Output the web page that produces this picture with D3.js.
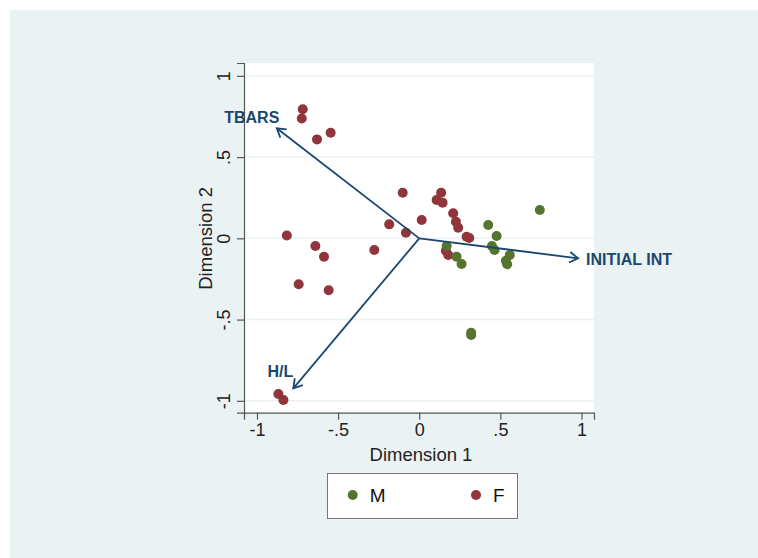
<!DOCTYPE html>
<html>
<head>
<meta charset="utf-8">
<script src="https://cdn.jsdelivr.net/npm/d3@7"></script>
<style>
  body { margin: 0; background: #fff; }
  svg { display: block; font-family: "Liberation Sans", Arial, sans-serif; }
</style>
</head>
<body>
<div id="chart"></div>
<script>
// biplot data
var femaleDim1 = [-0.718, -0.724, -0.546, -0.630, -0.102, -0.185, -0.082, -0.816, 0.015, -0.640, -0.277, -0.587,
                  -0.743, -0.558, -0.868, -0.837, 0.135, 0.107, 0.144, 0.209, 0.226, 0.240, 0.292, 0.308, 0.164, 0.179];
var femaleDim2 = [0.794, 0.738, 0.650, 0.609, 0.281, 0.086, 0.034, 0.018, 0.113, -0.047, -0.072, -0.113,
                  -0.283, -0.320, -0.958, -0.995, 0.281, 0.236, 0.219, 0.154, 0.102, 0.065, 0.010, 0.002, -0.076, -0.103];
var maleDim1 = [0.743, 0.425, 0.477, 0.169, 0.448, 0.464, 0.230, 0.261, 0.558, 0.534, 0.542, 0.320, 0.320];
var maleDim2 = [0.174, 0.082, 0.014, -0.047, -0.047, -0.072, -0.113, -0.158, -0.103, -0.138, -0.160, -0.581, -0.595];

var varNames = ["TBARS", "INITIAL INT", "H/L"];
var varDim1 = [-0.878, 0.979, -0.776];
var varDim2 = [0.677, -0.123, -0.923];

var tickValues = [-1, -0.5, 0, 0.5, 1];
var tickLabels = ["-1", "-.5", "0", ".5", "1"];

var legendNames = ["M", "F"];

(function () {
    var W = 758, H = 558;
    var navy = "#1a476f", green = "#55752f", maroon = "#90353b", bluish = "#eaf2f3";

    var svg = d3.select("#chart").append("svg")
        .attr("width", W)
        .attr("height", H);

    // outer background
    svg.append("rect")
        .attr("x", 10).attr("y", 10)
        .attr("width", W - 10).attr("height", H - 10)
        .style("fill", bluish);

    var pLeft = 244, pRight = 594, pTop = 63, pBottom = 412.7;
    var x = d3.scaleLinear().domain([-1.08, 1.077]).range([pLeft, pRight]);
    var y = d3.scaleLinear().domain([-1.073, 1.079]).range([pBottom, pTop]);

    // plot region
    svg.append("rect")
        .attr("x", pLeft).attr("y", pTop)
        .attr("width", pRight - pLeft).attr("height", pBottom - pTop)
        .style("fill", "#fff");

    // grid lines
    svg.append("g").selectAll("line")
        .data(tickValues)
        .enter().append("line")
        .attr("x1", pLeft).attr("x2", pRight)
        .attr("y1", function(d) { return y(d); })
        .attr("y2", function(d) { return y(d); })
        .style("stroke", bluish)
        .style("stroke-width", 1.5);

    // axes
    var fmt = function(d, i) { return tickLabels[i]; };
    var xAxis = svg.append("g")
        .attr("transform", "translate(0," + pBottom + ")")
        .call(d3.axisBottom(x).tickValues(tickValues).tickFormat(fmt).tickSizeOuter(0).tickSize(7).tickPadding(4));
    var yAxis = svg.append("g")
        .attr("transform", "translate(" + pLeft + ",0)")
        .call(d3.axisLeft(y).tickValues(tickValues).tickFormat(fmt).tickSizeOuter(0).tickSize(7));

    [xAxis, yAxis].forEach(function(a) {
        a.select(".domain").style("stroke", "#555").style("stroke-width", 1.2);
        a.selectAll(".tick line").style("stroke", "#555").style("stroke-width", 1.2);
        a.selectAll("text").style("font-size", "18px").style("fill", "#222")
            .style("font-family", "'Liberation Sans', Arial, sans-serif");
    });
    xAxis.selectAll("text").attr("dy", "0.71em");
    yAxis.selectAll(".tick text")
        .attr("x", 0).attr("dy", 0)
        .attr("transform", "translate(-14,0) rotate(-90)")
        .style("text-anchor", "middle");

    // axis titles
    svg.append("text")
        .attr("x", (pLeft + pRight) / 2 + 2)
        .attr("y", 461)
        .style("text-anchor", "middle")
        .style("font-size", "18.5px")
        .style("fill", "#222")
        .text("Dimension 1");
    svg.append("text")
        .attr("transform", "translate(212," + y(0) + ") rotate(-90)")
        .style("text-anchor", "middle")
        .style("font-size", "18.5px")
        .style("fill", "#222")
        .text("Dimension 2");

    // points
    var pts = svg.append("g");
    pts.selectAll("circle.f")
        .data(femaleDim1)
        .enter().append("circle")
        .attr("class", "f")
        .attr("cx", function(d) { return x(d); })
        .attr("cy", function(d, i) { return y(femaleDim2[i]); })
        .attr("r", 5)
        .style("fill", maroon);
    pts.selectAll("circle.m")
        .data(maleDim1)
        .enter().append("circle")
        .attr("class", "m")
        .attr("cx", function(d) { return x(d); })
        .attr("cy", function(d, i) { return y(maleDim2[i]); })
        .attr("r", 5)
        .style("fill", green);

    // arrows for the variables
    var arrows = svg.append("g");
    varNames.forEach(function(name, i) {
        var x0 = x(0), y0 = y(0), x1 = x(varDim1[i]), y1 = y(varDim2[i]);
        var ang = Math.atan2(y1 - y0, x1 - x0);
        var len = 10, spread = 0.55;
        arrows.append("line")
            .attr("x1", x0).attr("y1", y0).attr("x2", x1).attr("y2", y1)
            .style("stroke", navy).style("stroke-width", 1.8);
        arrows.append("path")
            .attr("d", "M" + (x1 - len * Math.cos(ang - spread)) + "," + (y1 - len * Math.sin(ang - spread)) +
                "L" + x1 + "," + y1 +
                "L" + (x1 - len * Math.cos(ang + spread)) + "," + (y1 - len * Math.sin(ang + spread)))
            .style("fill", "none").style("stroke", navy).style("stroke-width", 1.8);
    });

    // arrow labels
    var labelPos = [
        {dx: -25, dy: -5, anchor: "middle"},
        {dx: 8, dy: 7, anchor: "start"},
        {dx: -13, dy: -11, anchor: "middle"}
    ];
    varNames.forEach(function(name, i) {
        svg.append("text")
            .attr("x", x(varDim1[i]) + labelPos[i].dx)
            .attr("y", y(varDim2[i]) + labelPos[i].dy)
            .style("text-anchor", labelPos[i].anchor)
            .style("font-size", "16px")
            .style("font-weight", "bold")
            .style("fill", navy)
            .text(name);
    });

    // legend
    var legend = svg.append("g");
    legend.append("rect")
        .attr("x", 327.5).attr("y", 473.5)
        .attr("width", 190).attr("height", 45)
        .style("fill", "#fff")
        .style("stroke", "#777")
        .style("stroke-width", 1);
    var legendX = [352.7, 476];
    var legendColors = [green, maroon];
    legendNames.forEach(function(name, i) {
        legend.append("circle")
            .attr("cx", legendX[i]).attr("cy", 495)
            .attr("r", 5)
            .style("fill", legendColors[i]);
        legend.append("text")
            .attr("x", legendX[i] + 17).attr("y", 502)
            .style("font-size", "19px")
            .style("fill", "#111")
            .text(name);
    });
})();
</script>
</body>
</html>
